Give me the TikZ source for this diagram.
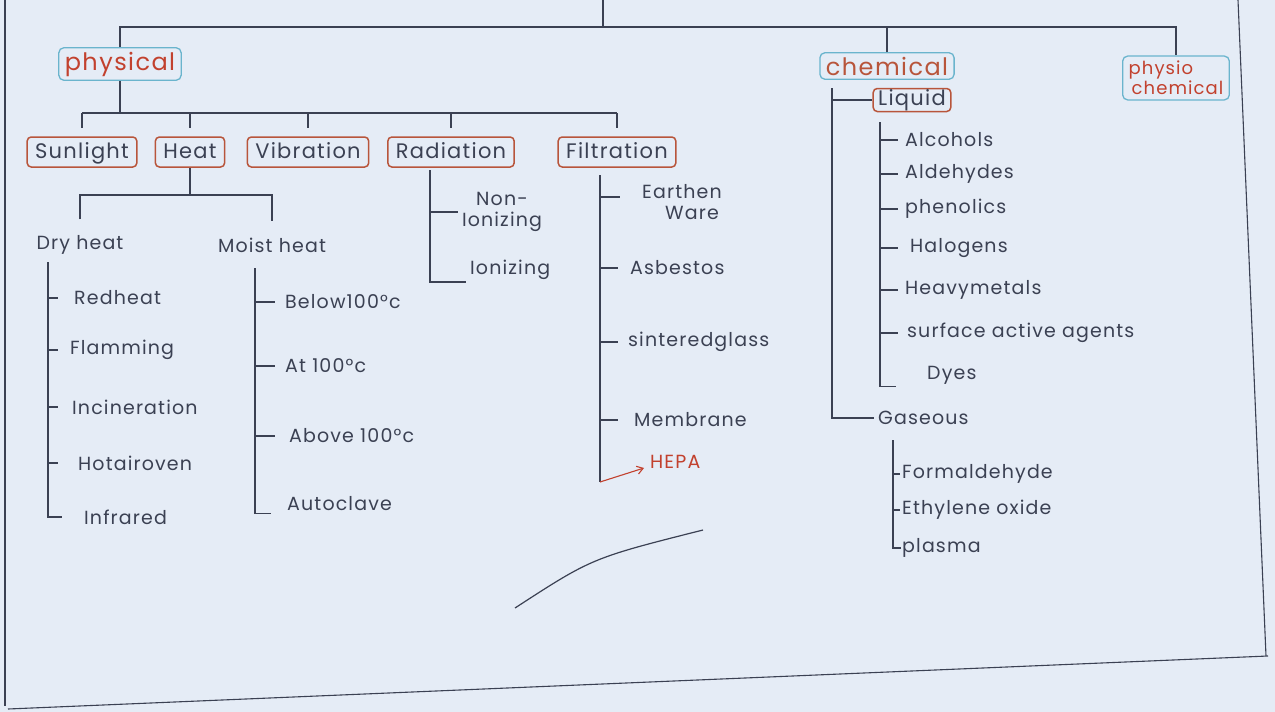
\documentclass[tikz,border=0pt]{standalone}
\usepackage{fontspec}
\setmainfont[LetterSpace=6]{Poppins}
\usetikzlibrary{arrows.meta}
\definecolor{paper}{HTML}{E5ECF6}
\definecolor{ink}{HTML}{3B4153}
\definecolor{inkred}{HTML}{C2412E}
\definecolor{boxblue}{HTML}{6AB4CD}
\definecolor{boxred}{HTML}{B8553B}
\tikzset{
	wire/.style={draw=ink, line width=1.1pt},
	mainbox/.style={draw=boxblue, rounded corners=5pt, line width=1.3pt, text=inkred, inner xsep=6pt, inner ysep=4pt, font=\fontsize{24}{26}\selectfont},
	subbox/.style={draw=boxred, rounded corners=4pt, line width=1.5pt, text=ink, inner xsep=8pt, inner ysep=4pt, text height=17pt, text depth=5pt, font=\fontsize{21}{23}\selectfont},
	item/.style={anchor=west, text=ink, inner sep=2pt, font=\fontsize{19}{21}\selectfont}
}
\begin{document}
\begin{tikzpicture}[x=1pt, y=-1pt]
		\fill[paper](0,0)rectangle(1275,712);
		\useasboundingbox(0,0)rectangle(1275,712);
		\node[mainbox](phys)at(120,64){physical};
		\node[mainbox, text=boxred](chem)at(887,66){chemical};
		\node[mainbox, align=left, inner ysep=5pt, font=\fontsize{18}{20}\selectfont](pchem)at(1176,78){physio\\\hspace*{3pt}chemical};
		\coordinate(top)at(603,0);
		\coordinate(tbar)at(603,27);
		\draw[wire](top)--(tbar);
		\draw[wire](phys.north)|-(tbar)-|(pchem.north);
		\draw[wire](chem.north)--(chem.north|-tbar);
		\node[subbox](sun)at(82,152){Sunlight};
		\node[subbox](heat)at(190,152){Heat};
		\node[subbox](vib)at(308,152){Vibration};
		\node[subbox](rad)at(451,152){Radiation};
		\node[subbox](filt)at(617,152){Filtration};
		\coordinate(pbar)at(105,113);
		\draw[wire](phys.south)--(phys.south|-pbar);
		\draw[wire](sun.north|-pbar)--(filt.north|-pbar);
		\foreach \n in {sun,heat,vib,rad,filt}
			\draw[wire](\n.north|-pbar)--([yshift=8pt]\n.north);
		\node[item, anchor=center](dry)at(80,245){Dry heat};
		\node[item, anchor=center](moist)at(272,245){Moist heat};
		\coordinate(hbar)at(185,195);
		\draw[wire](heat.south)--(heat.south|-hbar);
		\draw[wire]([yshift=14pt]dry.north)|-(hbar)-|([yshift=14pt]moist.north);
		\node[item](red)at(72,298){Redheat};
		\node[item](flam)at(68,350){Flamming};
		\node[item](inc)at(70,407){Incineration};
		\node[item](hot)at(76,463){Hotairoven};
		\node[item](infra)at(82,517){Infrared};
		\coordinate(dtop)at(48,262);
		\draw[wire](dtop)--(dtop|-infra.west)--++(14,0);
		\foreach \n in {red,flam,inc,hot}
			\draw[wire](dtop|-\n.west)--++(10,0);
		\node[item](b100)at(283,302){Below100°c};
		\node[item](a100)at(283,366){At 100°c};
		\node[item](ab100)at(287,436){Above 100°c};
		\node[item](auto)at(285,504){Autoclave};
		\coordinate(mtop)at(255,268);
		\draw[wire](mtop)--(mtop|-auto.south)--++(16,0);
		\foreach \n in {b100,a100,ab100}
			\draw[wire](mtop|-\n.west)--++(20,0);
		\coordinate(rtop)at(430,170);
		\node[item, anchor=center, align=center](nonion)at(502,212){Non-\\Ionizing};
		\node[item](ion)at(468,270){Ionizing};
		\draw[wire](rtop|-nonion.west)--++(28,0);
		\draw[wire](rtop)|-([xshift=-2pt]ion.south west);
		\coordinate(ftop)at(600,175);
		\node[item, anchor=north, align=center](earth)at(682,182){Earthen\\\hspace*{20pt}Ware};
		\node[item](asb)at(628,268){Asbestos};
		\node[item](sint)at(626,342){sinteredglass};
		\node[item](memb)at(632,420){Membrane};
		\node[item, text=inkred](hepa)at(648,462){HEPA};
		\coordinate(fbot)at(600,482);
		\draw[wire](ftop)--(fbot);
		\draw[wire, draw=inkred, -{Straight Barb[length=6pt, width=8pt]}](fbot)--([shift={(-4pt,-6pt)}]hepa.west);
		\draw[wire](ftop|-earth.north)++(0,15)--++(20,0);
		\foreach \n in {asb,sint,memb}
			\draw[wire](ftop|-\n.west)--++(18,0);
		\node[subbox, inner xsep=5pt, text height=15pt, text depth=4pt, inner ysep=2pt](liq)at(912,100){Liquid};
		\coordinate(ctop)at(832,88);
		\node[item](gas)at(876,418){Gaseous};
		\draw[wire](ctop)|-([xshift=-2pt]gas.west);
		\draw[wire](ctop|-liq.west)--(liq.west);
		\node[item](alc)at(903,140){Alcohols};
		\node[item](ald)at(903,174){Aldehydes};
		\node[item](phen)at(903,209){phenolics};
		\node[item](halo)at(908,248){Halogens};
		\node[item](heavy)at(903,290){Heavymetals};
		\node[item](surf)at(905,333){surface active agents};
		\node[item](dyes)at(925,375){Dyes};
		\coordinate(ltop)at(880,122);
		\draw[wire](ltop)--(ltop|-dyes.south west)--++(16,0);
		\foreach \n in {alc,ald,phen,halo,heavy,surf}
			\draw[wire](ltop|-\n.west)--++(18,0);
		\node[item](form)at(900,474){Formaldehyde};
		\node[item](eth)at(900,510){Ethylene oxide};
		\node[item](plas)at(900,548){plasma};
		\coordinate(gtop)at(893,440);
		\draw[wire](gtop)--(gtop|-plas.west)--++(8,0);
		\foreach \n in {form,eth}
			\draw[wire](gtop|-\n.west)--++(7,0);
		\draw[wire](5,0)--(5,706);
		\draw[wire](8,709)--(1268,656);
		\draw[wire](1238,0)--(1266,656);
		\draw[wire, line width=1.2pt](515,608)..controls(592,558)..(703,530);
\end{tikzpicture}
\end{document}
